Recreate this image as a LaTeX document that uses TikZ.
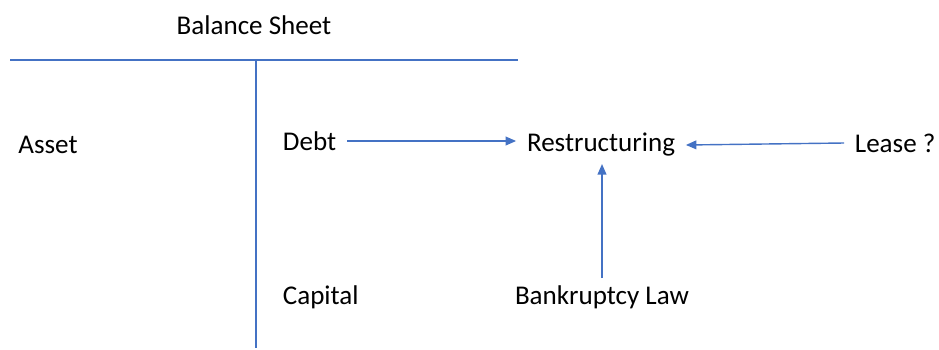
\documentclass[tikz,border=0pt]{standalone}
\usepackage{fontspec}
\setmainfont{Carlito}
\usetikzlibrary{arrows.meta}
\definecolor{lineblue}{RGB}{68,114,196}
\tikzset{
	lbl/.style={font=\fontsize{15.4}{18}\selectfont,inner xsep=6pt,inner ysep=4pt},
	conn/.style={color=lineblue,line width=0.8pt},
	arr/.style={conn,-{Triangle[length=6pt,width=5pt]}}
}
\begin{document}
\begin{tikzpicture}[x=0.02cm,y=-0.02cm]
	\useasboundingbox (0,0) rectangle (939,349);
	% T account
	\node[lbl] (title) at (254,25) {Balance Sheet};
	\coordinate (tl) at (10,60);
	\coordinate (tr) at (518,60);
	\coordinate (tm) at (256,60);
	\coordinate (bm) at (256,348);
	\draw[conn] (tl)--(tr);
	\draw[conn] (tm)--(bm);
	\node[lbl,anchor=west,inner xsep=0pt] (asset) at (18,145) {Asset};
	\node[lbl,anchor=west] (debt) at (272,141) {Debt};
	\node[lbl,anchor=west] (capital) at (272,297) {Capital};
	% restructuring
	\node[lbl] (restr) at (601,145) {Restructuring};
	\node[lbl,anchor=west] (lease) at (844,143) {Lease ?};
	\node[lbl] (bank) at (602,297) {Bankruptcy Law};
	\draw[arr] (debt.east)--(restr.west|-debt.east);
	\draw[arr] (lease.west)--(restr.east);
	\draw[arr] (bank.north)--(bank.north|-restr.south);
\end{tikzpicture}
\end{document}
